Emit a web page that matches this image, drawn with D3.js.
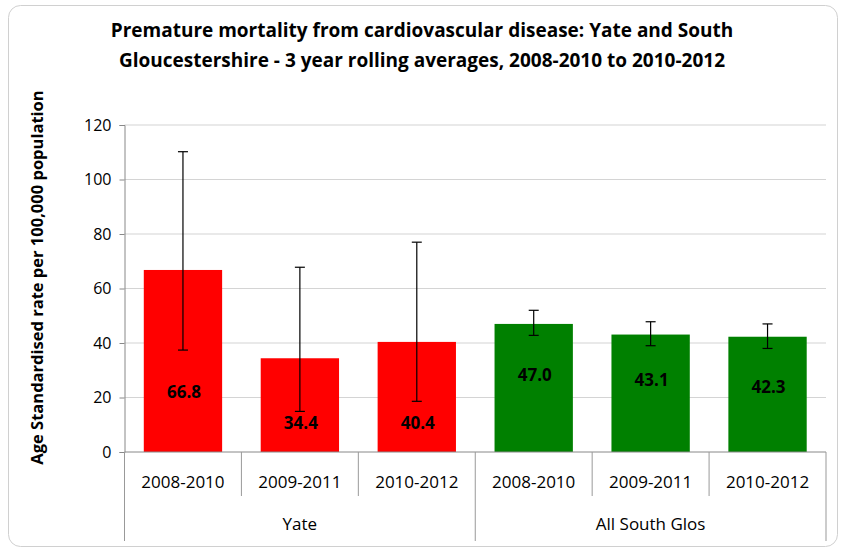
<!DOCTYPE html>
<html>
<head>
<meta charset="utf-8">
<script src="https://cdn.jsdelivr.net/npm/d3@7"></script>
<style>
  body { margin: 0; background: #fff; }
  svg text { font-family: "Open Sans", sans-serif; fill: #000; }
</style>
</head>
<body>
<svg id="chart" width="844" height="551"></svg>
<script>
// data
let groups = ["Yate", "All South Glos"];
let periods = ["2008-2010", "2009-2011", "2010-2012"];
let rates = [66.8, 34.4, 40.4, 47.0, 43.1, 42.3];
let lowerCI = [37.4, 14.9, 18.6, 42.8, 39.0, 38.0];
let upperCI = [110.2, 67.8, 77.0, 52.0, 47.8, 47.0];
// where Excel left the data labels (in axis units)
let labelAt = [22.1, 10.6, 10.6, 28.3, 26.4, 23.9];
let yTicks = [0, 20, 40, 60, 80, 100, 120];
let groupColors = ["#ff0000", "#008000"];

let svg = d3.select("#chart");

let margin = { top: 125, left: 124.5, right: 18, bottom: 99 },
    width = 844 - margin.left - margin.right,
    height = 551 - margin.top - margin.bottom;

// outer frame
svg.append("rect")
    .attr("x", 8.5).attr("y", 5.5)
    .attr("width", 829).attr("height", 541)
    .attr("rx", 12)
    .attr("fill", "#fff")
    .attr("stroke", "#d0d0d0");

// title
svg.append("text")
    .attr("x", 422).attr("y", 37)
    .attr("text-anchor", "middle")
    .style("font-weight", "bold").style("font-size", "19px")
    .text("Premature mortality from cardiovascular disease: Yate and South");
svg.append("text")
    .attr("x", 422).attr("y", 67)
    .attr("text-anchor", "middle")
    .style("font-weight", "bold").style("font-size", "19px")
    .text("Gloucestershire - 3 year rolling averages, 2008-2010 to 2010-2012");

let g = svg.append("g").attr("transform", "translate(" + margin.left + "," + margin.top + ")");

let keys = [];
groups.forEach(function(gr, gi) {
    periods.forEach(function(p, pi) { keys.push(gi * periods.length + pi); });
});

let x = d3.scaleBand().domain(keys).range([0, width]).paddingInner(0.33).paddingOuter(0.165);
let y = d3.scaleLinear().domain([0, 120]).range([height, 0]);

// gridlines
g.selectAll(".grid").data(yTicks.slice(1)).enter().append("line")
    .attr("x1", 0).attr("x2", width)
    .attr("y1", function(d) { return y(d); }).attr("y2", function(d) { return y(d); })
    .attr("stroke", "#d4d4d4").attr("stroke-width", 1.2);

// y axis
let yAxis = g.append("g")
    .call(d3.axisLeft(y).tickValues(yTicks).tickSize(5).tickPadding(8));
yAxis.select(".domain").attr("stroke", "#888");
yAxis.selectAll(".tick line").attr("stroke", "#888");
yAxis.selectAll(".tick text").style("font-size", "16px");

// bars
g.selectAll(".bar").data(rates).enter().append("rect")
    .attr("x", function(d, i) { return x(i); })
    .attr("width", x.bandwidth())
    .attr("y", function(d) { return y(d); })
    .attr("height", function(d) { return height - y(d); })
    .attr("fill", function(d, i) { return groupColors[Math.floor(i / periods.length)]; });

// error bars
let err = g.selectAll(".err").data(rates).enter().append("g")
    .attr("transform", function(d, i) { return "translate(" + (x(i) + x.bandwidth() / 2) + ",0)"; })
    .attr("stroke", "#000").attr("stroke-width", 1.2);
err.append("line")
    .attr("y1", function(d, i) { return y(lowerCI[i]); })
    .attr("y2", function(d, i) { return y(upperCI[i]); });
err.append("line").attr("x1", -5).attr("x2", 5)
    .attr("y1", function(d, i) { return y(lowerCI[i]); })
    .attr("y2", function(d, i) { return y(lowerCI[i]); });
err.append("line").attr("x1", -5).attr("x2", 5)
    .attr("y1", function(d, i) { return y(upperCI[i]); })
    .attr("y2", function(d, i) { return y(upperCI[i]); });

// value labels
g.selectAll(".val").data(rates).enter().append("text")
    .attr("x", function(d, i) { return x(i) + x.bandwidth() / 2 + 1; })
    .attr("y", function(d, i) { return y(labelAt[i]); })
    .attr("dy", "0.35em")
    .attr("text-anchor", "middle")
    .style("font-weight", "bold").style("font-size", "17px")
    .text(function(d) { return d3.format(".1f")(d); });

// x axis: baseline and category boxes
let step = x.step();
g.append("line").attr("x1", 0).attr("x2", width).attr("y1", height).attr("y2", height)
    .attr("stroke", "#888");
keys.concat([keys.length]).forEach(function(k) {
    let isGroupEdge = k % periods.length === 0;
    g.append("line")
        .attr("x1", k * step).attr("x2", k * step)
        .attr("y1", height).attr("y2", height + (isGroupEdge ? 89 : 44))
        .attr("stroke", "#999");
});
g.selectAll(".cat").data(keys).enter().append("text")
    .attr("x", function(d) { return d * step + step / 2; })
    .attr("y", height + 36)
    .attr("text-anchor", "middle")
    .style("font-size", "17px")
    .text(function(d) { return periods[d % periods.length]; });
g.selectAll(".grp").data(groups).enter().append("text")
    .attr("x", function(d, i) { return (i + 0.5) * periods.length * step; })
    .attr("y", height + 78)
    .attr("text-anchor", "middle")
    .style("font-size", "17px")
    .text(function(d) { return d; });

// y axis title
svg.append("text")
    .attr("transform", "translate(43," + (margin.top + height / 2 - 11) + ") rotate(-90)")
    .attr("text-anchor", "middle")
    .style("font-weight", "bold").style("font-size", "16.5px")
    .text("Age Standardised rate per 100,000 population");
</script>
</body>
</html>
